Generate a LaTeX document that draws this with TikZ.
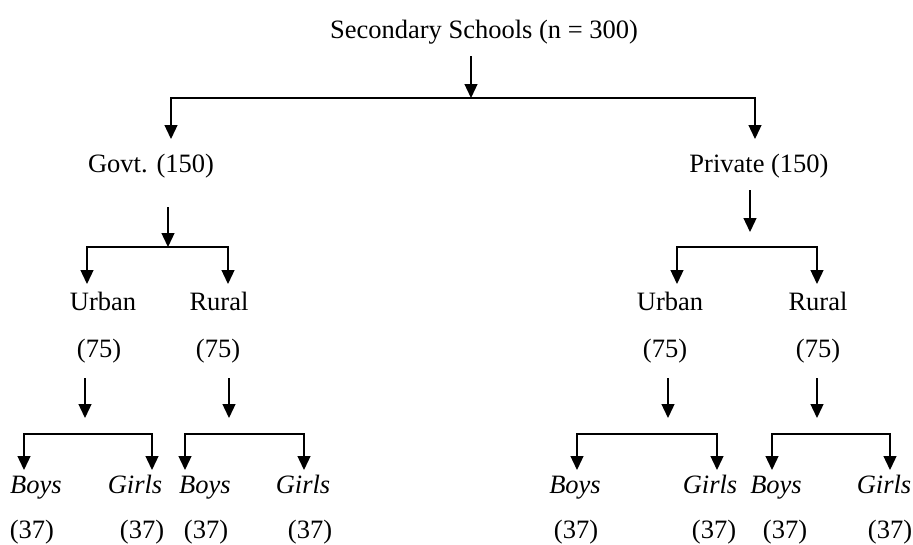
\documentclass[tikz,border=0pt]{standalone}
\usepackage{fontspec}
\setmainfont{Liberation Serif}
\usetikzlibrary{arrows.meta}
\begin{document}
\begin{tikzpicture}[x=1pt,y=-1pt,
  font=\fontsize{26.5}{30}\selectfont,
  lbl/.style={inner sep=0pt, anchor=base},
  arr/.style={line width=1.3pt, -{Triangle[width=13pt,length=14pt]}},
  fork/.style={line width=1.3pt, {Triangle[width=13pt,length=14pt]}-{Triangle[width=13pt,length=14pt]}, line join=miter}]
\useasboundingbox (0,0) rectangle (913,544);

% texts
\node[lbl] (root) at (484,38) {Secondary Schools (n = 300)};
\node[lbl] (govt) at (151,172) {Govt. (150)};
\node[lbl] (priv) at (759,172) {Private (150)};

\node[lbl] (gu) at (103,310) {Urban};
\node[lbl] (gr) at (219,310) {Rural};
\node[lbl] (gun) at (99,357) {(75)};
\node[lbl] (grn) at (218,357) {(75)};
\node[lbl] (pu) at (670,310) {Urban};
\node[lbl] (pr) at (818,310) {Rural};
\node[lbl] (pun) at (665,357) {(75)};
\node[lbl] (prn) at (818,357) {(75)};

\node[lbl] (gub) at (36,493) {\itshape Boys};
\node[lbl] (gug) at (135,493) {\itshape Girls};
\node[lbl] (grb) at (205,493) {\itshape Boys};
\node[lbl] (grg) at (303,493) {\itshape Girls};
\node[lbl] (pub) at (575,493) {\itshape Boys};
\node[lbl] (pug) at (710,493) {\itshape Girls};
\node[lbl] (prb) at (776,493) {\itshape Boys};
\node[lbl] (prg) at (884,493) {\itshape Girls};

\node[lbl] (gubn) at (32,538) {(37)};
\node[lbl] (gugn) at (142,538) {(37)};
\node[lbl] (grbn) at (206,538) {(37)};
\node[lbl] (grgn) at (310,538) {(37)};
\node[lbl] (pubn) at (576,538) {(37)};
\node[lbl] (pugn) at (714,538) {(37)};
\node[lbl] (prbn) at (785,538) {(37)};
\node[lbl] (prgn) at (890,538) {(37)};

% level 1
\coordinate (r0) at (471,56);
\coordinate (r1) at (471,98);
\coordinate (rL) at (171,98);
\coordinate (rR) at (755,98);
\coordinate (rLd) at (171,139);
\coordinate (rRd) at (755,139);
\draw[arr] (r0) -- (r1);
\draw[fork] (rLd) -- (rL) -- (rR) -- (rRd);

% level 2 govt
\coordinate (g0) at (168,207);
\coordinate (g1) at (168,247);
\coordinate (gL) at (87,247);
\coordinate (gR) at (228,247);
\coordinate (gLd) at (87,284);
\coordinate (gRd) at (228,284);
\draw[arr] (g0) -- (g1);
\draw[fork] (gLd) -- (gL) -- (gR) -- (gRd);

% level 2 private
\coordinate (p0) at (750,190);
\coordinate (p1) at (750,232);
\coordinate (pL) at (677,247);
\coordinate (pR) at (817,247);
\coordinate (pLd) at (677,284);
\coordinate (pRd) at (817,284);
\draw[arr] (p0) -- (p1);
\draw[fork] (pLd) -- (pL) -- (pR) -- (pRd);

% level 3
\coordinate (a0) at (85,378);  \coordinate (a1) at (85,418);
\coordinate (b0) at (229,378); \coordinate (b1) at (229,418);
\coordinate (c0) at (668,378); \coordinate (c1) at (668,418);
\coordinate (d0) at (817,378); \coordinate (d1) at (817,418);
\draw[arr] (a0) -- (a1);
\draw[arr] (b0) -- (b1);
\draw[arr] (c0) -- (c1);
\draw[arr] (d0) -- (d1);

\coordinate (aL) at (24,434);  \coordinate (aR) at (152,434);
\coordinate (bL) at (185,434); \coordinate (bR) at (304,434);
\coordinate (cL) at (577,434); \coordinate (cR) at (717,434);
\coordinate (dL) at (772,434); \coordinate (dR) at (890,434);
\coordinate (aLd) at (24,470);  \coordinate (aRd) at (152,470);
\coordinate (bLd) at (185,470); \coordinate (bRd) at (304,470);
\coordinate (cLd) at (577,470); \coordinate (cRd) at (717,470);
\coordinate (dLd) at (772,470); \coordinate (dRd) at (890,470);
\draw[fork] (aLd) -- (aL) -- (aR) -- (aRd);
\draw[fork] (bLd) -- (bL) -- (bR) -- (bRd);
\draw[fork] (cLd) -- (cL) -- (cR) -- (cRd);
\draw[fork] (dLd) -- (dL) -- (dR) -- (dRd);
\end{tikzpicture}
\end{document}
